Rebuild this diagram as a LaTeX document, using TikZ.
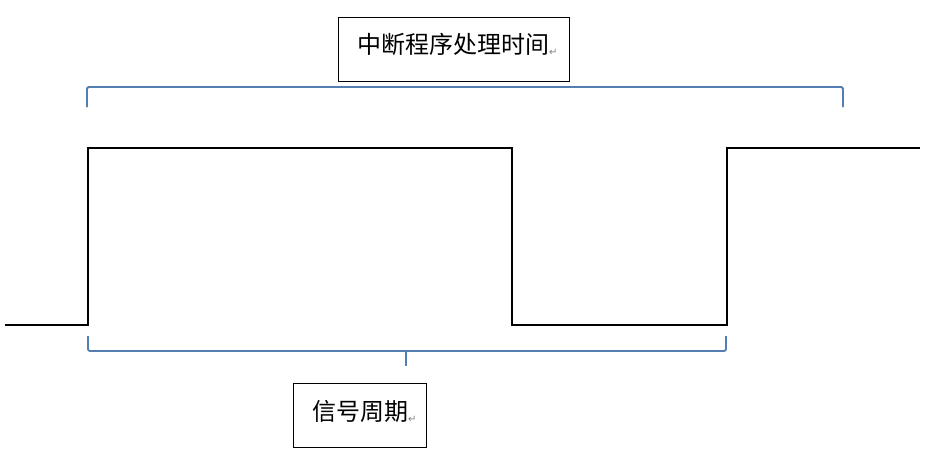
\documentclass[tikz,border=0pt]{standalone}
\usepackage{fontspec}
\setmainfont{Noto Sans CJK SC}
\newfontfamily\symfont{DejaVu Sans}
\usepackage{xcolor}
\definecolor{bracketblue}{RGB}{84,126,178}

\newcommand{\retmark}{{\symfont\fontsize{10}{10}\selectfont\color{gray}\raisebox{-2pt}{↵}}}

\begin{document}
\begin{tikzpicture}[x=1pt,y=-1pt]
				\useasboundingbox (0,0) rectangle (942,464);
				\fill[white] (0,0) rectangle (942,464);
				
				\coordinate (S) at (5,325);
				\coordinate (R1) at (88,325);
				\coordinate (F1) at (512,148);
				\coordinate (R2) at (727,325);
				\coordinate (E) at (920,148);
				
				% waveform
				\draw[line width=2.2pt,black] (S) -- (R1) -- (R1 |- F1) -- (F1) -- (F1 |- R2) -- (R2) -- (R2 |- E) -- (E);
				
				% top bracket
				\draw[line width=1.8pt,bracketblue,rounded corners=1.5pt] (87,107) -- (87,87) -- (843,87) -- (843,107);
				
				% bottom brace
				\draw[line width=1.8pt,bracketblue,rounded corners=2pt] (88,336) -- (88,351) -- (726,351) -- (726,336);
				\draw[line width=1.8pt,bracketblue] (406,351) -- (406,366);
				
				\draw[line width=1pt] (338,17) rectangle (569,81);
				\node at (357,44) [anchor=west,inner sep=0pt] (isr) {\fontsize{24}{24}\selectfont 中断程序处理时间\retmark};
				
				\draw[line width=1pt] (293,383) rectangle (426,447);
				\node at (312,411) [anchor=west,inner sep=0pt] (period) {\fontsize{24}{24}\selectfont 信号周期\retmark};
			\end{tikzpicture}
\end{document}
